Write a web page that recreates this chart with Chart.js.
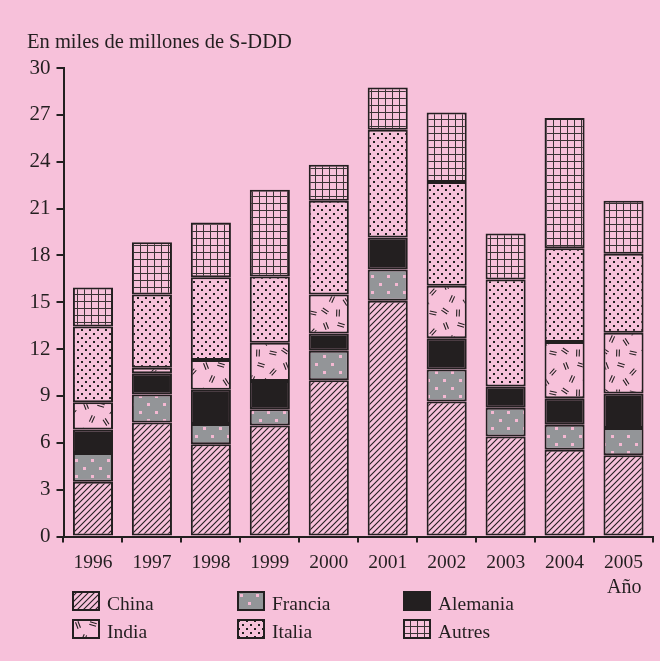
<!DOCTYPE html>
<html>
<head>
<meta charset="utf-8">
<script src="https://cdn.jsdelivr.net/npm/chart.js@4"></script>
<style>
  html, body {
    margin: 0;
    padding: 0;
    background: #f7c1da;
  }
  #wrap {
    position: relative;
    width: 660px;
    height: 661px;
    font-family: "Liberation Serif", serif;
    color: #231f20;
  }
  #chart {
    position: absolute;
    left: 0;
    top: 0;
  }
  .txt {
    position: absolute;
    line-height: 1;
    white-space: nowrap;
  }
  .item {
    position: absolute;
    height: 20px;
  }
  .item canvas {
    position: absolute;
    left: 0;
    top: 0;
  }
  .item span {
    position: absolute;
    left: 35px;
    top: 3px;
    font-size: 19.5px;
    line-height: 1;
    white-space: nowrap;
  }
</style>
</head>
<body>
<div id="wrap">
  <canvas id="chart" width="660" height="661"></canvas>
  <div class="txt" style="left:27px; top:31px; font-size:20.5px;">En miles de millones de S-DDD</div>
  <div class="txt" style="left:607px; top:576px; font-size:20px;">Año</div>
  <div id="legend"></div>
</div>
<script>
const years = ["1996", "1997", "1998", "1999", "2000", "2001", "2002", "2003", "2004", "2005"];

// values, in S-DDD thousand millions
const china = [3.5, 7.3, 5.9, 7.1, 10.0, 15.1, 8.65, 6.4, 5.55, 5.2];
const francia = [1.85, 1.8, 1.3, 1.05, 1.9, 2.0, 2.05, 1.85, 1.6, 1.75];
const alemania = [1.5, 1.35, 2.2, 1.8, 1.1, 2.05, 2.0, 1.35, 1.7, 2.2];
const india = [1.75, 0.35, 1.9, 2.45, 2.5, 0, 3.35, 0, 3.6, 3.9];
const italia = [4.85, 4.7, 5.3, 4.25, 6.0, 6.9, 6.65, 6.85, 6.0, 5.05];
const autres = [2.5, 3.35, 3.5, 5.55, 2.3, 2.7, 4.45, 2.95, 8.35, 3.4];

const yTicks = [0, 3, 6, 9, 12, 15, 18, 21, 24, 27, 30];

const pink = "#f7c1da";
const dark = "#231f20";
const grey = "#939598";

function tile(w, h, draw) {
  const c = document.createElement("canvas");
  c.width = w;
  c.height = h;
  const t = c.getContext("2d");
  draw(t, w, h);
  return c;
}

// hatch fills, one per country
function makePattern(ctx, kind) {
  let c;
  if (kind === "china") {
    c = tile(6, 6, (t, w, h) => {
      t.fillStyle = pink;
      t.fillRect(0, 0, w, h);
      t.strokeStyle = dark;
      t.lineWidth = 1.1;
      t.beginPath();
      t.moveTo(-1, h + 1);
      t.lineTo(w + 1, -1);
      t.moveTo(-1, 1);
      t.lineTo(1, -1);
      t.moveTo(w - 1, h + 1);
      t.lineTo(w + 1, h - 1);
      t.stroke();
    });
  } else if (kind === "francia") {
    c = tile(16, 16, (t, w, h) => {
      t.fillStyle = grey;
      t.fillRect(0, 0, w, h);
      t.fillStyle = "#f4b8d2";
      t.fillRect(3, 3, 3, 3);
      t.fillRect(11, 11, 3, 3);
    });
  } else if (kind === "alemania") {
    return dark;
  } else if (kind === "india") {
    c = tile(40, 40, (t, w, h) => {
      t.fillStyle = pink;
      t.fillRect(0, 0, w, h);
      t.strokeStyle = dark;
      t.lineWidth = 1.1;
      const marks = [
        [6, 6, 1.2], [21, 5, 0.3], [33, 12, 2.3],
        [12, 19, 2.0], [26, 22, 1.0], [5, 31, 0.6],
        [18, 33, 1.6], [33, 33, 0.2]
      ];
      marks.forEach(([x, y, a]) => {
        t.save();
        t.translate(x, y);
        t.rotate(a);
        t.beginPath();
        t.moveTo(-3.5, -1.3);
        t.lineTo(3.5, -1.3);
        t.moveTo(-3.5, 1.3);
        t.lineTo(3.5, 1.3);
        t.stroke();
        t.restore();
      });
    });
  } else if (kind === "italia") {
    c = tile(8, 8, (t, w, h) => {
      t.fillStyle = pink;
      t.fillRect(0, 0, w, h);
      t.fillStyle = dark;
      t.fillRect(1, 1, 2, 2);
      t.fillRect(5, 5, 2, 2);
    });
  } else {
    c = tile(7, 7, (t, w, h) => {
      t.fillStyle = pink;
      t.fillRect(0, 0, w, h);
      t.fillStyle = "#3b3335";
      t.fillRect(0, 0, w, 1);
      t.fillRect(0, 0, 1, h);
    });
  }
  return ctx.createPattern(c, "repeat");
}

const ctx = document.getElementById("chart").getContext("2d");

const series = [
  { label: "China", kind: "china", data: china },
  { label: "Francia", kind: "francia", data: francia },
  { label: "Alemania", kind: "alemania", data: alemania },
  { label: "India", kind: "india", data: india },
  { label: "Italia", kind: "italia", data: italia },
  { label: "Autres", kind: "autres", data: autres },
];

const datasets = series.map((s) => ({
  label: s.label,
  data: s.data,
  backgroundColor: makePattern(ctx, s.kind),
  borderColor: dark,
  borderWidth: 2,
  borderSkipped: false,
  barPercentage: 0.68,
  categoryPercentage: 1,
}));

Chart.defaults.font.family = "'Liberation Serif', serif";
Chart.defaults.color = dark;

new Chart(ctx, {
  type: "bar",
  data: { labels: years, datasets: datasets },
  options: {
    responsive: false,
    animation: false,
    layout: { padding: { left: 0, right: 7, top: 68, bottom: 0 } },
    plugins: {
      legend: { display: false },
      tooltip: { enabled: false },
    },
    scales: {
      x: {
        stacked: true,
        offset: true,
        grid: {
          offset: true,
          drawOnChartArea: false,
          drawTicks: true,
          tickLength: 6,
          color: dark,
          lineWidth: 2,
        },
        border: { color: dark, width: 2 },
        ticks: { font: { size: 19.5 }, padding: 9, maxRotation: 0 },
        afterFit: (scale) => {
          scale.height = 124.5;
        },
      },
      y: {
        stacked: true,
        min: 0,
        max: 30,
        afterBuildTicks: (scale) => {
          scale.ticks = yTicks.map((v) => ({ value: v }));
        },
        grid: {
          drawOnChartArea: false,
          drawTicks: true,
          tickLength: 7,
          color: dark,
          lineWidth: 2,
        },
        border: { color: dark, width: 2 },
        ticks: { font: { size: 21 }, padding: 6 },
        afterFit: (scale) => {
          scale.width = 63.5;
        },
      },
    },
  },
});

// legend in two rows of three, like the printed figure
const legendEl = document.getElementById("legend");
const cols = [72, 237, 403];
const rows = [591, 619];
series.forEach((s, i) => {
  const item = document.createElement("div");
  item.className = "item";
  item.style.left = cols[i % 3] + "px";
  item.style.top = rows[Math.floor(i / 3)] + "px";
  const sw = document.createElement("canvas");
  sw.width = 28;
  sw.height = 20;
  const sctx = sw.getContext("2d");
  sctx.fillStyle = makePattern(sctx, s.kind);
  sctx.fillRect(0, 0, 28, 20);
  sctx.strokeStyle = dark;
  sctx.lineWidth = 2;
  sctx.strokeRect(1, 1, 26, 18);
  const label = document.createElement("span");
  label.textContent = s.label;
  item.appendChild(sw);
  item.appendChild(label);
  legendEl.appendChild(item);
});
</script>
</body>
</html>
